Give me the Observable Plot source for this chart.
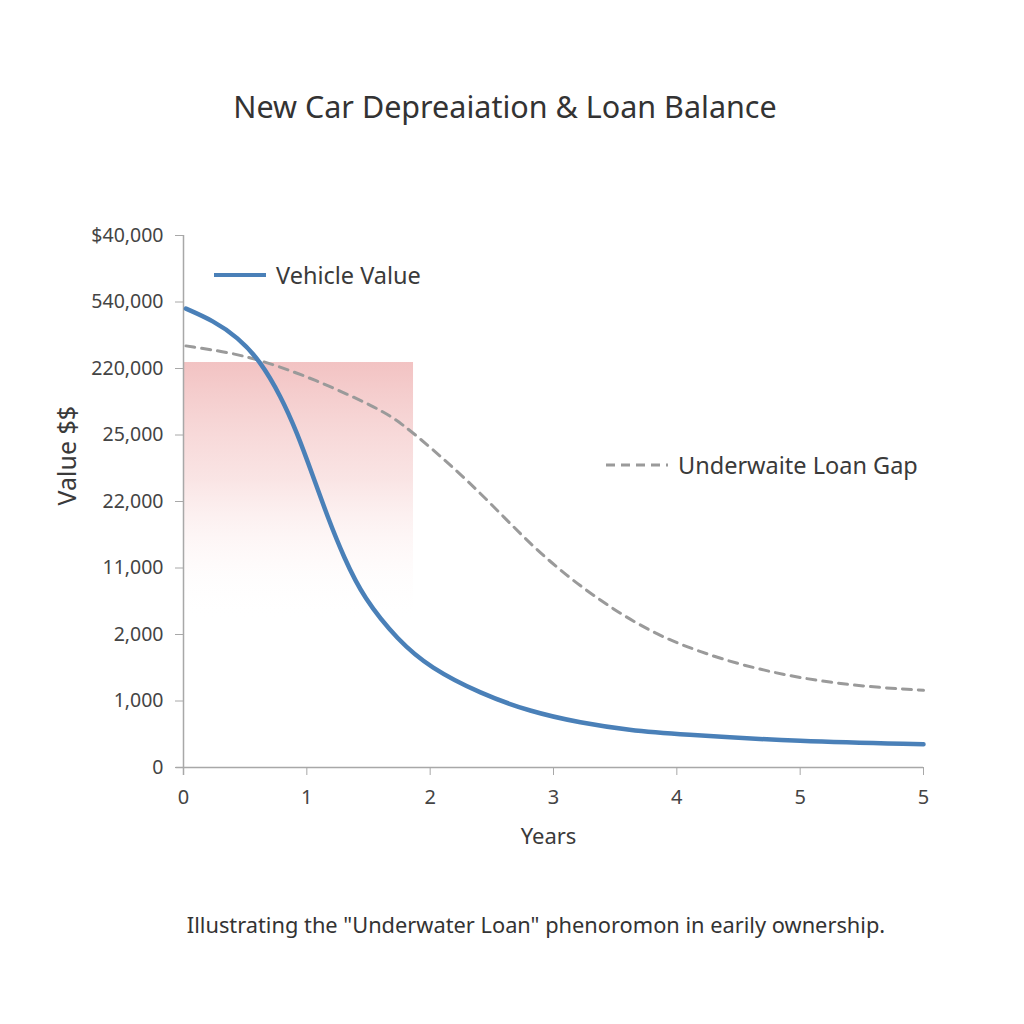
<!DOCTYPE html>
<html>
<head>
<meta charset="utf-8">
<script src="https://cdn.jsdelivr.net/npm/d3@7"></script>
<script src="https://cdn.jsdelivr.net/npm/@observablehq/plot@0.6"></script>
<style>
  html, body { margin: 0; padding: 0; background: #ffffff; }
  body { width: 1024px; height: 1024px; position: relative; overflow: hidden; font-family: "Noto Sans", "Open Sans", sans-serif; color: #333; }
  #chart { position: absolute; left: 0; top: 0; }
  .title { position: absolute; left: 0; width: 1010px; top: 85px; text-align: center; font-size: 30.5px; color: #333; }
  .caption { position: absolute; left: 0; width: 1072px; top: 910px; text-align: center; font-size: 21.8px; color: #333; }
  .legend { position: absolute; display: flex; align-items: center; font-size: 23.5px; color: #3a3a3a; }
  .legend svg { margin-right: 10px; }
</style>
</head>
<body>
<div id="chart"></div>
<div class="title">New Car Depreaiation &amp; Loan Balance</div>
<div class="caption">Illustrating the "Underwater Loan" phenoromon in earily ownership.</div>
<div class="legend" style="left:214px; top:259px;"><svg width="52" height="8"><line x1="0" y1="4" x2="52" y2="4" stroke="#4a80b8" stroke-width="4"/></svg>Vehicle Value</div>
<div class="legend" style="left:606px; top:449px;"><svg width="62" height="8"><line x1="0" y1="4" x2="62" y2="4" stroke="#9a9a9a" stroke-width="3" stroke-dasharray="9,6"/></svg>Underwaite Loan Gap</div>
<script>
// Tick labels (as printed on the reference)
const xLabels = ["0", "1", "2", "3", "4", "5", "5"];
const yLabels = ["0", "1,000", "2,000", "11,000", "22,000", "25,000", "220,000", "540,000", "$40,000"];

// Vehicle value curve (x in tick-index units, y in tick-index units)
const vehicleX = [0.02, 0.24, 0.44, 0.62, 0.79, 0.92, 1.05, 1.17, 1.30, 1.46, 1.74, 2.0, 2.41, 2.81, 3.22, 3.62, 4.0, 5.0, 6.0];
const vehicleY = [6.90, 6.72, 6.47, 6.12, 5.58, 5.04, 4.38, 3.76, 3.16, 2.55, 1.91, 1.50, 1.11, 0.84, 0.67, 0.56, 0.50, 0.39, 0.35];

// Loan balance (dashed) curve
const loanX = [0.02, 0.38, 0.65, 1.05, 1.57, 1.76, 2.03, 2.30, 2.57, 2.84, 3.11, 3.38, 3.65, 3.92, 4.19, 4.52, 5.0, 5.49, 6.0];
const loanY = [6.34, 6.24, 6.11, 5.85, 5.41, 5.19, 4.77, 4.32, 3.82, 3.31, 2.88, 2.51, 2.19, 1.93, 1.74, 1.54, 1.34, 1.22, 1.16];

// Shaded "underwater" region
const gapX1 = [0];
const gapX2 = [1.865];
const gapTop = [6.09];
const gapBottom = [2.2];

const vehicle = vehicleX.map((x, i) => ({x, y: vehicleY[i]}));
const loan = loanX.map((x, i) => ({x, y: loanY[i]}));
const gap = gapX1.map((x1, i) => ({x1, x2: gapX2[i], y1: gapBottom[i], y2: gapTop[i]}));

const plot = Plot.plot({
  width: 1024,
  height: 1024,
  marginLeft: 183,
  marginRight: 101,
  marginTop: 235,
  marginBottom: 257,
  style: {fontFamily: "Noto Sans, Open Sans, sans-serif", fontSize: "20px", color: "#444", background: "transparent"},
  x: {type: "linear", domain: [0, 6], label: null},
  y: {type: "linear", domain: [0, 8], label: null},
  marks: [
    Plot.rect(gap, {x1: "x1", x2: "x2", y1: "y1", y2: "y2", fill: "url(#gapGrad)"}),
    Plot.ruleX([0], {y1: -0.12, y2: 8, stroke: "#a8a8a8", strokeWidth: 1.5}),
    Plot.ruleY([0], {x1: -0.06, x2: 6, stroke: "#a8a8a8", strokeWidth: 1.5}),
    Plot.axisY({ticks: d3.range(yLabels.length), tickFormat: i => yLabels[i], tickSize: 8, tickPadding: 12, stroke: "#a8a8a8", fill: "#444", fontSize: 19.5, label: null}),
    Plot.axisX({ticks: d3.range(xLabels.length), tickFormat: i => xLabels[i], tickSize: 8, tickPadding: 14, stroke: "#a8a8a8", fill: "#444", fontSize: 20, label: null}),
    Plot.line(loan, {x: "x", y: "y", curve: "basis", stroke: "#9a9a9a", strokeWidth: 3, strokeDasharray: "9,7"}),
    Plot.line(vehicle, {x: "x", y: "y", curve: "basis", stroke: "#4a80b8", strokeWidth: 4.5, strokeLinecap: "round"}),
    Plot.text(["Years"], {frameAnchor: "bottom", dx: -5, dy: 76, fontSize: 22, fill: "#3a3a3a"}),
    Plot.text(["Value $$"], {frameAnchor: "left", dx: -116, dy: 4, rotate: -90, fontSize: 25, fill: "#3a3a3a"})
  ]
});

// gradient definition for the shaded region
const ns = "http://www.w3.org/2000/svg";
const defs = document.createElementNS(ns, "defs");
defs.innerHTML = `<linearGradient id="gapGrad" x1="0" y1="0" x2="0" y2="1">
  <stop offset="0" stop-color="#f0b8b8" stop-opacity="0.85"/>
  <stop offset="0.45" stop-color="#f6d2d2" stop-opacity="0.6"/>
  <stop offset="1" stop-color="#ffffff" stop-opacity="0"/>
</linearGradient>`;
plot.insertBefore(defs, plot.firstChild);
document.getElementById("chart").appendChild(plot);
</script>
</body>
</html>
